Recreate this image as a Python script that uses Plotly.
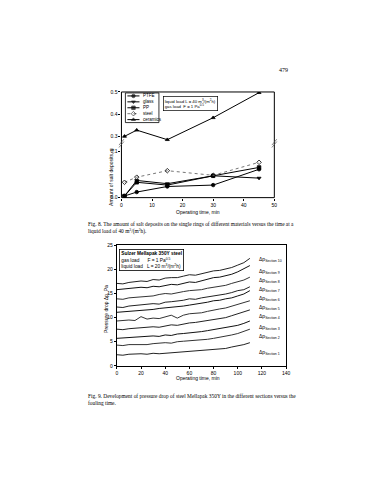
import plotly.graph_objects as go

W, H = 367, 480
def px(x): return x / W
def py(y): return 1 - y / H

# ---------------- Fig. 8 data ----------------
t8 = [1, 5, 15, 30, 45]
ptfe = [0.0035, 0.012, 0.024, 0.027, 0.061]
glass = [0.0035, 0.037, 0.030, 0.047, 0.042]
pp = [0.0035, 0.033, 0.027, 0.047, 0.065]
steel = [0.033, 0.044, 0.058, 0.048, 0.076]
ceramics = [0.300, 0.328, 0.285, 0.384, 0.497]
x8_ticks = [0, 10, 20, 30, 40, 50]
y8_low_ticks = [0.0, 0.1]
y8_low_text = ["0.0", "0.1"]
y8_up_ticks = [0.3, 0.4, 0.5]
y8_up_text = ["0.3", "0.4", "0.5"]
legend_names = ["PTFE", "glass", "PP", "steel", "ceramics"]

# ---------------- Fig. 9 data ----------------
t9 = [0, 5, 10, 15, 20, 25, 30, 35, 40, 45, 50, 55, 60, 65, 70, 75, 80, 85, 90, 95, 100, 105, 110]
c1 = [17.1, 17.0, 17.3, 17.4, 17.6, 17.5, 17.9, 17.8, 18.2, 18.3, 18.3, 18.6, 18.9, 18.8, 19.1, 19.4, 19.7, 19.8, 20.1, 20.4, 20.9, 21.4, 22.3]
c2 = [15.8, 15.9, 16.0, 16.2, 16.3, 16.2, 16.5, 16.4, 16.7, 16.9, 16.8, 17.1, 17.4, 17.3, 17.6, 17.9, 18.3, 18.4, 18.7, 19.0, 19.5, 20.1, 20.8]
c3 = [13.9, 13.8, 14.1, 14.2, 14.3, 14.5, 14.5, 14.8, 15.0, 14.9, 15.2, 15.4, 15.6, 15.7, 15.8, 16.1, 16.3, 16.4, 16.7, 17.1, 17.5, 17.8, 18.4]
c4 = [12.2, 12.1, 12.4, 12.5, 12.6, 12.7, 12.9, 12.8, 13.2, 13.3, 13.4, 13.6, 13.9, 13.8, 14.1, 14.3, 14.5, 14.6, 14.9, 15.2, 15.6, 15.8, 16.4]
c5 = [11.1, 11.2, 11.3, 11.3, 11.5, 11.6, 11.7, 11.9, 12.0, 12.2, 12.3, 12.4, 12.6, 12.8, 12.9, 13.2, 13.5, 13.6, 13.9, 14.1, 14.5, 14.9, 15.6]
c6 = [9.3, 9.4, 9.5, 9.4, 10.2, 9.7, 9.9, 9.8, 10.1, 10.5, 9.9, 10.5, 10.8, 10.9, 11.0, 11.3, 11.6, 11.8, 12.0, 12.4, 12.8, 13.1, 13.5]
c7 = [7.6, 7.5, 7.7, 7.8, 7.9, 8.0, 8.1, 8.0, 8.3, 8.5, 8.4, 8.7, 8.9, 9.0, 9.2, 9.4, 9.6, 9.8, 10.0, 10.4, 10.8, 11.1, 11.6]
c8 = [5.7, 5.8, 5.8, 6.0, 6.0, 6.1, 6.2, 6.1, 6.4, 6.3, 6.6, 6.7, 6.8, 6.9, 7.1, 7.3, 7.5, 7.7, 7.9, 8.1, 8.4, 8.8, 9.3]
c9 = [4.3, 4.2, 4.4, 4.4, 4.5, 4.4, 4.6, 4.7, 4.8, 4.7, 5.0, 5.1, 5.2, 5.2, 5.4, 5.5, 5.7, 5.9, 6.1, 6.4, 6.7, 7.1, 7.6]
c10 = [2.3, 2.2, 2.4, 2.5, 2.5, 2.4, 2.6, 2.5, 2.6, 2.7, 2.8, 2.8, 2.9, 3.0, 3.1, 3.2, 3.3, 3.5, 3.6, 3.9, 4.1, 4.4, 4.8]
section_labels = ["Section 10", "Section 9", "Section 8", "Section 7", "Section 6",
                  "Section 5", "Section 4", "Section 3", "Section 2", "Section 1"]
section_label_y = [22.0, 19.5, 17.6, 15.8, 14.0, 12.2, 10.2, 8.05, 6.0, 2.7]
x9_ticks = [0, 20, 40, 60, 80, 100, 120, 140]
y9_ticks = [0, 5, 10, 15, 20, 25]

FONT = "Liberation Sans"
SERIF = "Liberation Serif"

fig = go.Figure()

# ---- Fig 8 traces ----
styles = [
    (ptfe, "circle", "black", "solid", "y"),
    (glass, "triangle-down", "black", "solid", "y"),
    (pp, "square", "black", "solid", "y"),
    (steel, "diamond-open", "#777777", "dot", "y"),
    (ceramics, "triangle-up", "black", "solid", "y2"),
]
for name, (vals, sym, col, dash, yax) in zip(legend_names, styles):
    fig.add_trace(go.Scatter(
        x=t8, y=vals, mode="lines+markers", name=name, showlegend=False,
        xaxis="x", yaxis=yax,
        line=dict(color=col, width=1, dash=dash),
        marker=dict(symbol=sym, size=3.5, color="black", line=dict(color="black", width=0.8)),
    ))

# manual legend on hidden axes (x4/y4)
for i, (name, (vals, sym, col, dash, yax)) in enumerate(zip(legend_names, styles)):
    yy = 4.5 - i
    fig.add_trace(go.Scatter(
        x=[0.06, 0.24, 0.42], y=[yy, yy, yy], mode="lines+markers", showlegend=False,
        xaxis="x4", yaxis="y4", hoverinfo="skip",
        line=dict(color=col, width=1, dash=dash),
        marker=dict(symbol=sym, size=[0, 3.5, 0], color="black", line=dict(color="black", width=0.8)),
    ))

# ---- Fig 9 traces ----
curves = [c1, c2, c3, c4, c5, c6, c7, c8, c9, c10]
cols9 = ["#222", "#111", "#333", "#222", "#111", "#333", "#222", "#111", "#333", "#222"]
for c, col in zip(curves, cols9):
    fig.add_trace(go.Scatter(
        x=t9, y=c, mode="lines", showlegend=False, xaxis="x3", yaxis="y3",
        line=dict(color=col, width=1),
    ))

tickfont = dict(family=FONT, size=5, color="black")
common = dict(showgrid=False, zeroline=False, ticks="outside", ticklen=2,
              tickcolor="black", tickwidth=1, tickfont=tickfont)

layout = dict(
    width=W, height=H, margin=dict(l=0, r=0, t=0, b=0),
    paper_bgcolor="white", plot_bgcolor="rgba(0,0,0,0)",
    showlegend=False,
    xaxis=dict(domain=[px(114), px(269)], range=[0, 50], anchor="y",
               tickvals=x8_ticks, showline=False, **common),
    yaxis=dict(domain=[py(189), py(133)], range=[0, 0.119], anchor="x",
               tickvals=y8_low_ticks, ticktext=y8_low_text, showline=False, **common),
    yaxis2=dict(domain=[py(133), py(82)], range=[0.273, 0.5], anchor="x",
                tickvals=y8_up_ticks, ticktext=y8_up_text, showline=False, **common),
    xaxis3=dict(domain=[px(109.3), px(281)], range=[0, 140], anchor="y3",
                tickvals=x9_ticks, showline=True, mirror=True, linecolor="black",
                linewidth=1, **common),
    yaxis3=dict(domain=[py(359.3), py(237.3)], range=[0, 25], anchor="x3",
                tickvals=y9_ticks, showline=True, mirror=True, linecolor="black",
                linewidth=1, **common),
    xaxis4=dict(domain=[px(118), px(152)], range=[0, 1], visible=False, fixedrange=True),
    yaxis4=dict(domain=[py(113), py(83)], range=[0, 5], visible=False, fixedrange=True),
)
fig.update_layout(**layout)

shapes = [
    # Fig 8 frame
    dict(type="rect", xref="paper", yref="paper", x0=px(114), x1=px(269), y0=py(189), y1=py(82),
         line=dict(color="black", width=1)),
    # legend box
    dict(type="rect", xref="paper", yref="paper", x0=px(118), x1=px(152), y0=py(113), y1=py(83),
         line=dict(color="black", width=0.8)),
]
# axis-break marks
for xc in (114, 269):
    for off in (-1.2, 1.2):
        shapes.append(dict(type="line", xref="paper", yref="paper",
                           x0=px(xc - 2.5), y0=py(137 + off), x1=px(xc + 2.5), y1=py(131 + off),
                           line=dict(color="#555", width=0.7)))
fig.update_layout(shapes=shapes)

ann = []
# legend texts
for i, name in enumerate(legend_names):
    ann.append(dict(x=0.48, y=4.5 - i, xref="x4", yref="y4", text=name, showarrow=False,
                    xanchor="left", yanchor="middle", font=dict(family=FONT, size=4.5, color="black")))
# fig 8 info box
ann.append(dict(x=px(156), y=py(86.5), xref="paper", yref="paper", xanchor="left", yanchor="top",
                text="liquid load L = 40 m<sup>3</sup>/(m<sup>2</sup>h)<br>gas load  F = 1 Pa<sup>0.5</sup>",
                showarrow=False, align="left", bordercolor="black", borderwidth=0.7, borderpad=1,
                bgcolor="white", font=dict(family=FONT, size=4.3, color="black")))
# fig 8 axis titles
ann.append(dict(x=px(99), y=py(137), xref="paper", yref="paper", text="Amount of salt deposits, g",
                textangle=-90, showarrow=False, font=dict(family=FONT, size=5, color="black")))
ann.append(dict(x=px(192), y=py(203.5), xref="paper", yref="paper", text="Operating time, min",
                showarrow=False, font=dict(family=FONT, size=5, color="black")))
# fig 9 info box
ann.append(dict(x=px(112), y=py(241), xref="paper", yref="paper", xanchor="left", yanchor="top",
                text="<b>Sulzer Mellapak 350Y steel</b><br>gas load      F = 1 Pa<sup>0.5</sup><br>liquid load   L = 20 m<sup>3</sup>/(m<sup>2</sup>h)",
                showarrow=False, align="left", bordercolor="black", borderwidth=0.8, borderpad=1.5,
                bgcolor="white", font=dict(family=FONT, size=4.8, color="black")))
# section labels
for lab, yv in zip(section_labels, section_label_y):
    ann.append(dict(x=116, y=yv, xref="x3", yref="y3", xanchor="left", yanchor="middle",
                    text="Δp<sub>" + lab + "</sub>", showarrow=False,
                    font=dict(family=FONT, size=5, color="black")))
# fig 9 axis titles
ann.append(dict(x=px(93), y=py(302), xref="paper", yref="paper", text="Pressure drop Δp, Pa",
                textangle=-90, showarrow=False, font=dict(family=FONT, size=5, color="black")))
ann.append(dict(x=px(192), y=py(377), xref="paper", yref="paper", text="Operating time, min",
                showarrow=False, font=dict(family=FONT, size=5, color="black")))
# captions
ann.append(dict(x=px(78), y=py(211), xref="paper", yref="paper", xanchor="left", yanchor="top",
                align="left", showarrow=False,
                text="Fig. 8. The amount of salt deposits on the single rings of different materials versus the time at a<br>liquid load of 40 m<sup>3</sup>/(m<sup>2</sup>h).",
                font=dict(family=SERIF, size=5.4, color="black")))
ann.append(dict(x=px(78), y=py(385), xref="paper", yref="paper", xanchor="left", yanchor="top",
                align="left", showarrow=False,
                text="Fig. 9. Development of pressure drop of steel Mellapak 350Y in the different sections versus the<br>fouling time.",
                font=dict(family=SERIF, size=5.4, color="black")))
# page number
ann.append(dict(x=px(285), y=py(55), xref="paper", yref="paper", text="479", showarrow=False,
                font=dict(family=SERIF, size=6, color="black")))
fig.update_layout(annotations=ann)

fig.write_html("out.html")
